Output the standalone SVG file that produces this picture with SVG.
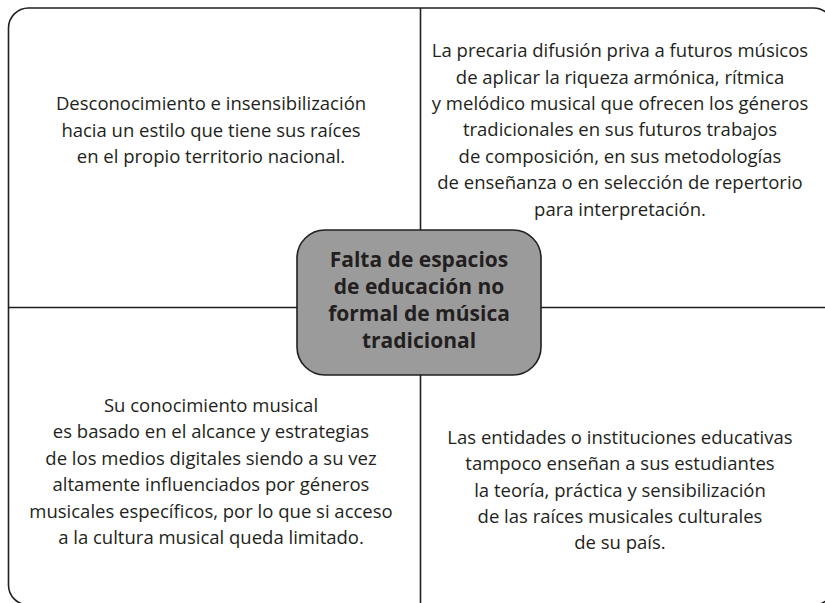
<svg xmlns="http://www.w3.org/2000/svg" width="825" height="603" viewBox="0 0 825 603">
<style>
.frame{fill:none;stroke:#231f20;stroke-width:1.6}
.line{stroke:#231f20;stroke-width:1.6;fill:none}
.t{font-family:"Open Sans","DejaVu Sans",sans-serif;font-size:18.5px;fill:#231f20;text-anchor:middle}
.c{font-family:"Open Sans","DejaVu Sans",sans-serif;font-size:21px;font-weight:bold;fill:#231f20;text-anchor:middle}
.box{fill:#9b9b9b;stroke:#231f20;stroke-width:1.6}
</style>
<rect width="825" height="603" fill="#fff"/>
<g id="frame">
<rect class="frame" x="8.5" y="8" width="825" height="597" rx="20" ry="20"/>
</g>
<g id="connectors">
<line class="line" x1="420.5" y1="8" x2="420.5" y2="605"/>
<line class="line" x1="8.5" y1="307.5" x2="825" y2="307.5"/>
</g>
<g id="center">
<rect class="box" x="297" y="230" width="244" height="145" rx="28" ry="28"/>
<text class="c" x="419" y="267">Falta de espacios</text>
<text class="c" x="419" y="294">de educación no</text>
<text class="c" x="419" y="321">formal de música</text>
<text class="c" x="419" y="348">tradicional</text>
</g>
<g id="top-left">
<text class="t" x="211" y="110">Desconocimiento e insensibilización</text>
<text class="t" x="211" y="137">hacia un estilo que tiene sus raíces</text>
<text class="t" x="211" y="163">en el propio territorio nacional.</text>
</g>
<g id="top-right">
<text class="t" x="620" y="57">La precaria difusión priva a futuros músicos</text>
<text class="t" x="620" y="84">de aplicar la riqueza armónica, rítmica</text>
<text class="t" x="620" y="110">y melódico musical que ofrecen los géneros</text>
<text class="t" x="620" y="136">tradicionales en sus futuros trabajos</text>
<text class="t" x="620" y="163">de composición, en sus metodologías</text>
<text class="t" x="620" y="189">de enseñanza o en selección de repertorio</text>
<text class="t" x="620" y="216">para interpretación.</text>
</g>
<g id="bottom-left">
<text class="t" x="211" y="412">Su conocimiento musical</text>
<text class="t" x="211" y="438">es basado en el alcance y estrategias</text>
<text class="t" x="211" y="465">de los medios digitales siendo a su vez</text>
<text class="t" x="211" y="491">altamente influenciados por géneros</text>
<text class="t" x="211" y="518">musicales específicos, por lo que si acceso</text>
<text class="t" x="211" y="544">a la cultura musical queda limitado.</text>
</g>
<g id="bottom-right">
<text class="t" x="620" y="444">Las entidades o instituciones educativas</text>
<text class="t" x="620" y="470">tampoco enseñan a sus estudiantes</text>
<text class="t" x="620" y="497">la teoría, práctica y sensibilización</text>
<text class="t" x="620" y="523">de las raíces musicales culturales</text>
<text class="t" x="620" y="549">de su país.</text>
</g>
</svg>
